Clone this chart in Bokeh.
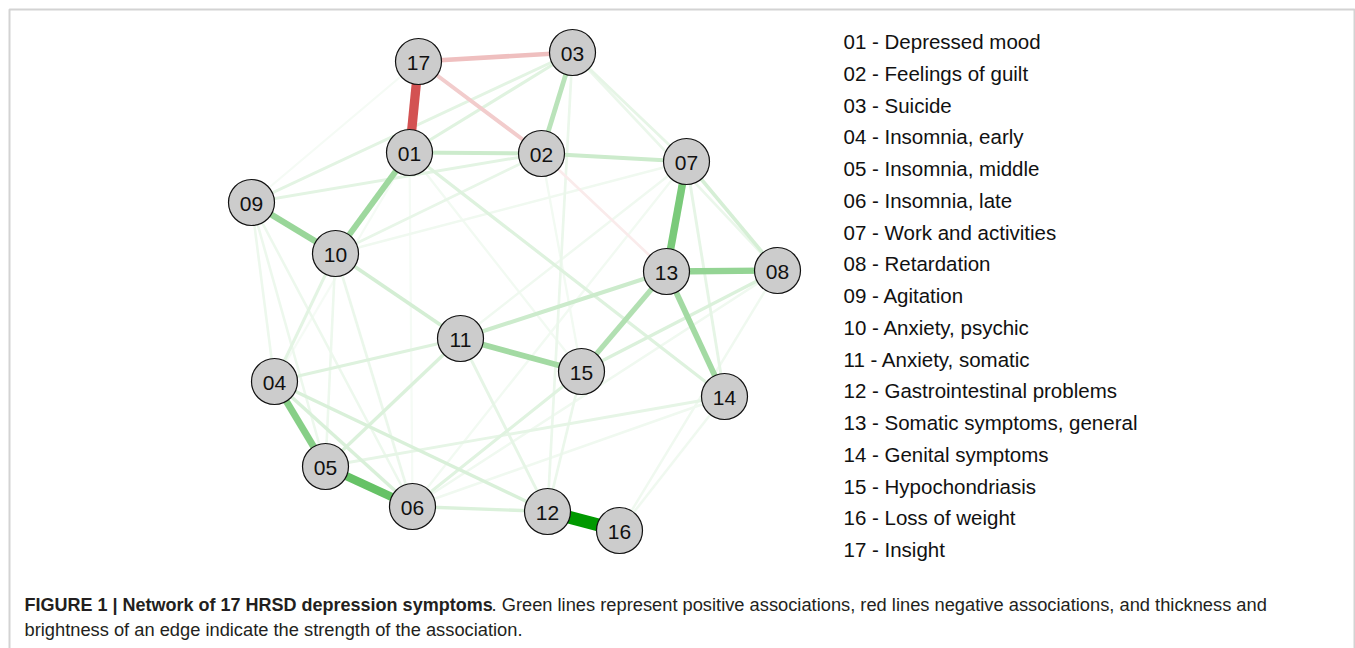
from bokeh.plotting import figure
from bokeh.models import ColumnDataSource, Range1d, BoxAnnotation
from bokeh.core.properties import value
from bokeh.embed import file_html
from bokeh.resources import INLINE

# ---------------- data ----------------
node_ids = ["01", "02", "03", "04", "05", "06", "07", "08", "09",
            "10", "11", "12", "13", "14", "15", "16", "17"]
node_names = ["Depressed mood", "Feelings of guilt", "Suicide", "Insomnia, early",
              "Insomnia, middle", "Insomnia, late", "Work and activities", "Retardation",
              "Agitation", "Anxiety, psychic", "Anxiety, somatic",
              "Gastrointestinal problems", "Somatic symptoms, general",
              "Genital symptoms", "Hypochondriasis", "Loss of weight", "Insight"]
# network layout coordinates
node_x = [409, 541, 572, 274, 325, 412, 686, 777, 251, 335, 460, 547, 666, 724, 581, 619, 418]
node_y = [152, 153, 52, 381, 466, 506, 161, 270, 202, 253, 338, 511, 271, 396, 371, 530, 61]

edge_from = ["12", "17", "05", "07", "04", "13", "09", "10", "13", "11", "13", "03", "17", "17",
             "02", "01", "11", "10", "07", "04", "04", "06", "11", "11", "15", "01", "09", "09",
             "01", "10", "06", "05", "07", "03", "04", "09", "09", "09", "10", "10", "12", "12",
             "12", "16", "16", "06", "02", "09", "10", "07", "03", "01", "01", "01", "02", "06",
             "11"]
edge_to = ["16", "01", "06", "13", "05", "08", "10", "01", "14", "15", "15", "02", "03", "02",
           "07", "02", "13", "11", "08", "06", "12", "12", "05", "04", "08", "14", "03", "02",
           "03", "02", "15", "14", "14", "07", "10", "04", "05", "06", "06", "05", "03", "11",
           "15", "08", "14", "08", "13", "17", "07", "06", "08", "15", "06", "04", "15", "14",
           "07"]
edge_weight = [1.00, -0.68, 0.60, 0.52, 0.47, 0.42, 0.40, 0.38, 0.36, 0.36, 0.30, 0.27, -0.25, -0.20,
               0.20, 0.20, 0.20, 0.17, 0.16, 0.15, 0.15, 0.14, 0.14, 0.13, 0.14, 0.13, 0.11, 0.11,
               0.12, 0.09, 0.12, 0.10, 0.10, 0.10, 0.11, 0.07, 0.07, 0.07, 0.08, 0.07, 0.08, 0.10,
               0.08, 0.06, 0.06, 0.06, -0.08, 0.04, 0.06, 0.05, 0.08, 0.05, 0.04, 0.04, 0.05, 0.06,
               0.06]

caption_bold = "FIGURE 1 | Network of 17 HRSD depression symptoms"
caption_rest_1 = ". Green lines represent positive associations, red lines negative associations, and thickness and"
caption_line_2 = "brightness of an edge indicate the strength of the association."

# ---------------- styling helpers ----------------
POS = (0, 153, 0)      # positive colour
NEG = (191, 0, 0)      # negative colour


def edge_color(w, wmax):
    f = min(1.0, abs(w) / wmax)
    base = POS if w > 0 else NEG
    r, g, b = (round(255 - (255 - c) * f) for c in base)
    return "#%02x%02x%02x" % (r, g, b)


W, H = 1355, 648
p = figure(width=W, height=H, output_backend="svg", toolbar_location=None,
           x_range=Range1d(0, W), y_range=Range1d(H, 0),
           min_border=0, outline_line_color=None)
p.axis.visible = False
p.grid.visible = False
p.background_fill_color = "white"

# ---------------- edges ----------------
idx = {k: i for i, k in enumerate(node_ids)}
wmax = max(abs(w) for w in edge_weight)
order = sorted(range(len(edge_weight)), key=lambda i: abs(edge_weight[i]))
edges = dict(x0=[], y0=[], x1=[], y1=[], color=[], width=[])
for i in order:
    a, b, w = idx[edge_from[i]], idx[edge_to[i]], edge_weight[i]
    edges["x0"].append(node_x[a]); edges["y0"].append(node_y[a])
    edges["x1"].append(node_x[b]); edges["y1"].append(node_y[b])
    edges["color"].append(edge_color(w, wmax))
    edges["width"].append(1.8 + 11.0 * abs(w) / wmax)
p.segment("x0", "y0", "x1", "y1", source=ColumnDataSource(edges),
          line_color="color", line_width="width", line_cap="butt")

# ---------------- nodes ----------------
nodes = ColumnDataSource(dict(x=node_x, y=node_y, label=node_ids))
p.scatter("x", "y", source=nodes, size=46, fill_color="#cccccc",
          line_color="#111111", line_width=1.2)
p.text("x", "y", text="label", source=nodes, text_align="center",
       text_baseline="middle", text_font=value("Liberation Sans"),
       text_font_size="21px", text_color="#111111", y_offset=1)

# ---------------- legend list ----------------
leg_x0, leg_y0, leg_dy = 843, 41, 31.75
legend_src = ColumnDataSource(dict(
    x=[leg_x0] * len(node_ids),
    y=[leg_y0 + i * leg_dy for i in range(len(node_ids))],
    t=[f"{k} - {n}" for k, n in zip(node_ids, node_names)]))
p.text("x", "y", text="t", source=legend_src, text_align="left",
       text_baseline="middle", text_font=value("Liberation Sans"),
       text_font_size="20.5px", text_color="#111111")

# ---------------- caption ----------------
cap_font = value("Liberation Sans")
p.text(x=[24], y=[604], text=[caption_bold], text_font=cap_font, text_font_style="bold",
       text_font_size="18px", text_baseline="middle", text_color="#231f20")
p.text(x=[491], y=[604], text=[caption_rest_1], text_font=cap_font,
       text_font_size="18.3px", text_baseline="middle", text_color="#231f20")
p.text(x=[24], y=[629], text=[caption_line_2], text_font=cap_font,
       text_font_size="18.3px", text_baseline="middle", text_color="#231f20")

# ---------------- frame border ----------------
p.add_layout(BoxAnnotation(left=9, right=1354, top=9, bottom=720,
                           fill_color=None, line_color="#6e6e6e", line_width=2))

open("out.html", "w").write(file_html(p, INLINE))
